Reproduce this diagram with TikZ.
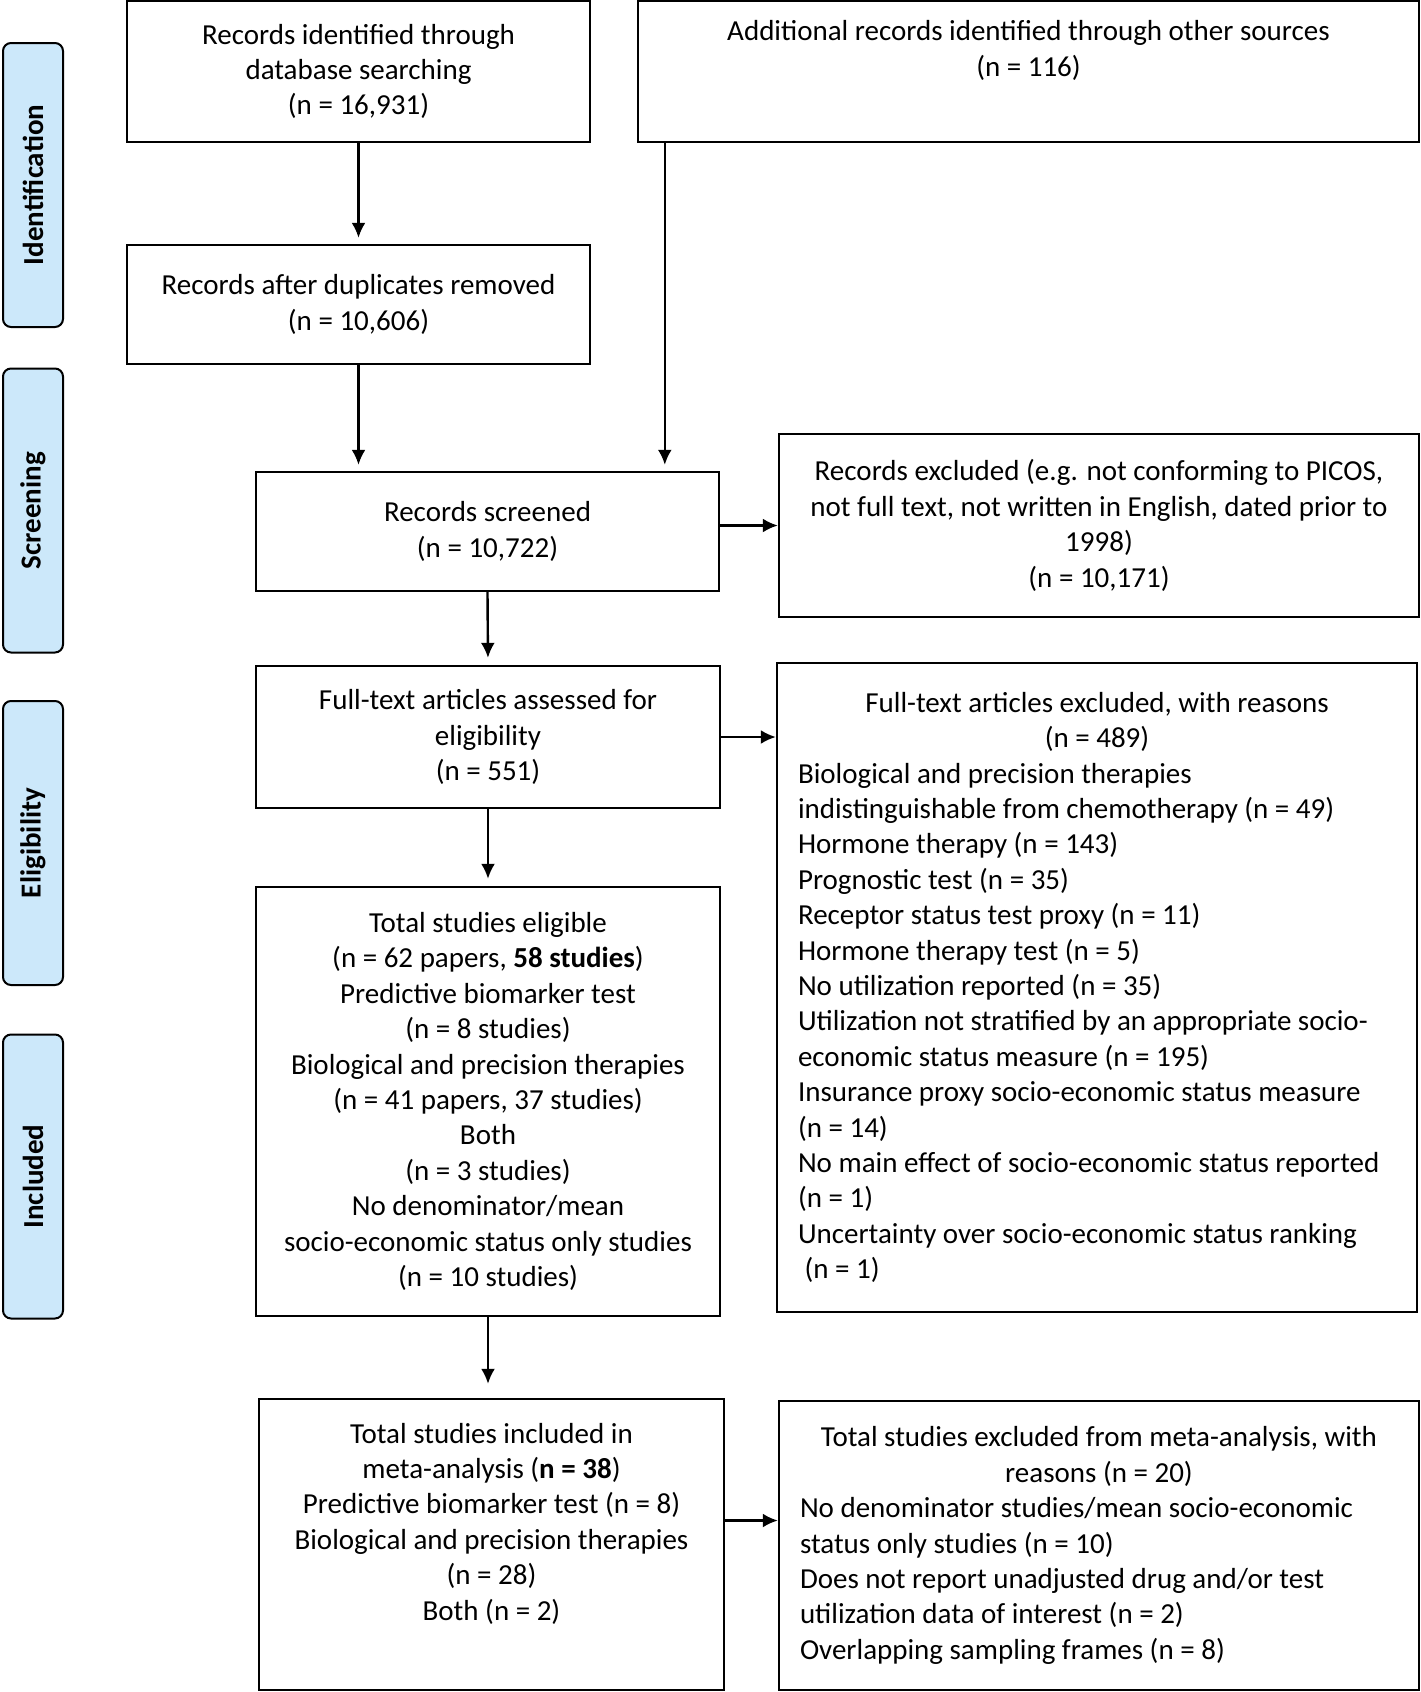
\documentclass[tikz,border=0pt]{standalone}
\usepackage{fontspec}
\setmainfont{Carlito}
\usepackage{xcolor}
\usepackage{tikz}
\usetikzlibrary{arrows.meta}
\definecolor{stagefill}{RGB}{204,232,250}
\tikzset{
	box/.style={draw, line width=1.2pt, align=center, inner sep=0pt, font=\fontsize{14.5}{17.7}\selectfont},
	listbox/.style={box, align=flush left, text width=299pt},
	stage/.style={draw, line width=1pt, rounded corners=4pt, fill=stagefill, rotate=90, minimum width=142pt, minimum height=30pt, inner sep=0pt, font=\bfseries\fontsize{14.5}{17.7}\selectfont},
	arr/.style={-{Latex[length=7.5pt,width=7pt]}, line width=1.2pt},
}

\begin{document}
\begin{tikzpicture}[x=0.5pt, y=-0.5pt]
	\useasboundingbox (0,0) rectangle (1420,1692);
	\node[stage] (ident) at (33,185) {Identification};
	\node[stage] (screen) at (33,510.5) {Screening};
	\node[stage] (elig) at (33,843) {Eligibility};
	\node[stage] (incl) at (33,1176.5) {Included};
	\node[box, minimum width=231.5pt, minimum height=70.5pt] (database) at (358.5,71.5) {Records identified through\\database searching\\(n = 16,931)};
	\node[box, minimum width=390.5pt, minimum height=70.5pt] (other) at (1028.5,71.5) {Additional records identified through other sources\\(n = 116)\\\strut};
	\node[box, minimum width=231.5pt, minimum height=59.5pt] (dedup) at (358.5,304.5) {Records after duplicates removed\\(n = 10,606)};
	\node[box, minimum width=231.5pt, minimum height=59.5pt] (screened) at (487.5,531.5) {Records screened\\(n = 10,722)};
	\node[box, minimum width=320pt, minimum height=91.5pt] (recexcl) at (1099,525.5) {Records excluded (e.g. not conforming to PICOS,\\not full text, not written in English, dated prior to\\1998)\\(n = 10,171)};
	\node[box, minimum width=232pt, minimum height=71pt] (fulltext) at (488,737) {Full-text articles assessed for\\eligibility\\(n = 551)};
	\node[listbox, minimum width=320pt, minimum height=324.5pt] (ftexcl) at (1097,987.5) {{\centering Full-text articles excluded, with reasons\\(n = 489)\par}
		Biological and precision therapies\\
		indistinguishable from chemotherapy (n = 49)\\
		Hormone therapy (n = 143)\\
		Prognostic test (n = 35)\\
		Receptor status test proxy (n = 11)\\
		Hormone therapy test (n = 5)\\
		No utilization reported (n = 35)\\
		Utilization not stratified by an appropriate socio-\\
		economic status measure (n = 195)\\
		Insurance proxy socio-economic status measure\\
		(n = 14)\\
		\mbox{No main effect of socio-economic status reported}\\
		(n = 1)\\
		Uncertainty over socio-economic status ranking\\
		\ (n = 1)};
	\node[box, minimum width=232pt, minimum height=214.5pt] (eligible) at (488,1101.5) {Total studies eligible\\(n = 62 papers, \textbf{58 studies})\\Predictive biomarker test\\(n = 8 studies)\\Biological and precision therapies\\(n = 41 papers, 37 studies)\\Both\\(n = 3 studies)\\No denominator/mean\\socio-economic status only studies\\(n = 10 studies)};
	\node[box, minimum width=232.5pt, minimum height=145.5pt] (meta) at (491.5,1544.5) {Total studies included in\\meta-analysis (\textbf{n = 38})\\Predictive biomarker test (n = 8)\\Biological and precision therapies\\(n = 28)\\Both (n = 2)\\\strut};
	\node[listbox, minimum width=320pt, minimum height=144.5pt] (metaexcl) at (1099,1545.5) {{\centering Total studies excluded from meta-analysis, with\\reasons (n = 20)\par}
		No denominator studies/mean socio-economic\\
		status only studies (n = 10)\\
		Does not report unadjusted drug and/or test\\
		utilization data of interest (n = 2)\\
		Overlapping sampling frames (n = 8)};
	\coordinate (otherdrop) at ([xshift=14pt]other.south west);
	\draw[arr, shorten >=3pt] (database.south) -- (dedup.north);
	\draw[arr, shorten >=3pt] (dedup.south) -- (dedup.south |- screened.north);
	\draw[arr, shorten >=3pt] (otherdrop) -- (otherdrop |- screened.north);
	\draw[arr] (screened.east |- recexcl.west) -- (recexcl.west);
	\draw[arr, shorten >=3.5pt] (screened.south) -- (fulltext.north);
	\draw[arr] (fulltext.east) -- (fulltext.east -| ftexcl.west);
	\draw[arr, shorten >=3.5pt] (fulltext.south) -- (eligible.north);
	\draw[arr, shorten >=7pt] (eligible.south) -- (eligible.south |- meta.north);
	\draw[arr] ([yshift=12pt]meta.east) -- ([yshift=12pt]meta.east -| metaexcl.west);
\end{tikzpicture}
\end{document}
